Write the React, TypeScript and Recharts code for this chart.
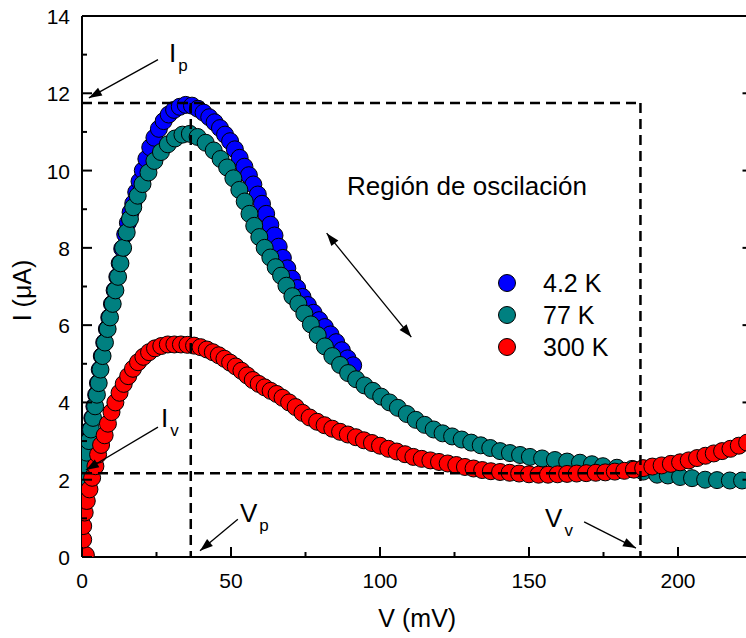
import { Legend, ReferenceDot, ReferenceLine, Scatter, ScatterChart, XAxis, YAxis } from "recharts";

const FONT = "'Liberation Sans', Arial, sans-serif";

// I-V curves, [V (mV), I (uA)]
const curve4K: [number, number][] = [
  [0.15, 2.05], [0.75, 2.4], [1.35, 2.7], [2.05, 3.0], [2.75, 3.3], [3.45, 3.6], [4.15, 3.9],
  [4.75, 4.2], [5.35, 4.5], [5.95, 4.85], [6.65, 5.2], [7.45, 5.55], [8.35, 5.9], [9.15, 6.2],
  [10.05, 6.55], [10.95, 6.9], [11.85, 7.25], [12.65, 7.6], [13.5, 7.98], [14.5, 8.35],
  [15.4, 8.65], [16.3, 8.92], [17.2, 9.15], [18.2, 9.44], [19.3, 9.72], [20.4, 10.0], [21.6, 10.3],
  [22.9, 10.6], [24.3, 10.85], [25.8, 11.08], [27.4, 11.28], [29.1, 11.45], [30.9, 11.57],
  [32.8, 11.65], [34.8, 11.7], [36.9, 11.68], [38.9, 11.6], [40.8, 11.5], [42.7, 11.38],
  [44.5, 11.25], [46.3, 11.1], [48.0, 10.93], [49.7, 10.76], [51.3, 10.55], [52.9, 10.33],
  [54.5, 10.1], [56.0, 9.88], [57.5, 9.64], [59.0, 9.38], [60.4, 9.14], [61.8, 8.88], [63.2, 8.6],
  [64.6, 8.32], [66.0, 8.03], [67.4, 7.74], [68.9, 7.47], [70.5, 7.2], [72.2, 6.96], [74.0, 6.73],
  [75.8, 6.52], [77.7, 6.32], [79.6, 6.13], [81.5, 5.95], [83.4, 5.76], [85.3, 5.56], [87.2, 5.35],
  [89.1, 5.14], [91.0, 4.96],
];

const curve77K: [number, number][] = [
  [0, 1.7], [0.4, 2.05], [1.0, 2.4], [1.6, 2.7], [2.3, 3.0], [3.0, 3.3], [3.7, 3.6], [4.4, 3.9],
  [5.0, 4.2], [5.6, 4.5], [6.2, 4.85], [6.9, 5.2], [7.7, 5.55], [8.6, 5.9], [9.4, 6.2], [10.3, 6.55],
  [11.2, 6.9], [12.1, 7.25], [12.9, 7.6], [13.8, 8.0], [15.0, 8.4], [16.1, 8.75], [17.2, 9.05],
  [18.7, 9.35], [20.3, 9.65], [22.3, 9.95], [24.3, 10.25], [26.5, 10.48], [28.8, 10.68],
  [31.2, 10.83], [33.7, 10.93], [36.2, 10.95], [38.8, 10.87], [41.5, 10.72], [44.2, 10.52],
  [46.5, 10.3], [48.7, 10.08], [50.8, 9.8], [52.8, 9.5], [54.6, 9.2], [56.2, 8.88], [57.8, 8.57],
  [59.5, 8.28], [61.3, 8.0], [63.2, 7.75], [65.0, 7.5], [66.8, 7.28], [68.6, 7.02], [70.6, 6.75],
  [72.6, 6.55], [74.6, 6.3], [76.8, 6.02], [79.1, 5.74], [81.5, 5.45], [84.0, 5.2], [86.6, 4.97],
  [89.3, 4.76], [92.0, 4.6], [94.8, 4.44], [97.6, 4.3], [100.4, 4.15], [103.2, 4.0], [106.0, 3.86],
  [109.0, 3.7], [112.0, 3.55], [115.0, 3.42], [118.0, 3.3], [121.0, 3.2], [124.2, 3.12],
  [127.4, 3.04], [130.6, 2.96], [133.8, 2.89], [137.0, 2.82], [140.3, 2.74], [143.6, 2.69],
  [147.0, 2.64], [150.3, 2.59], [154.4, 2.55], [158.7, 2.51], [162.8, 2.47], [167.1, 2.44],
  [171.1, 2.4], [174.8, 2.35], [179.5, 2.31], [184.6, 2.28], [188.3, 2.21], [193.0, 2.13],
  [196.6, 2.11], [200.7, 2.07], [204.7, 2.04], [209.1, 2.0], [213.1, 1.99], [217.4, 1.98],
  [221.5, 1.98],
];

const curve300K: [number, number][] = [
  [1.3, 0.05], [0.4, 0.45], [0.4, 0.8], [0.9, 1.15], [1.6, 1.45], [2.5, 1.75], [3.4, 2.05],
  [4.5, 2.35], [5.4, 2.65], [6.4, 2.9], [7.6, 3.15], [8.7, 3.45], [9.9, 3.75], [11.2, 4.0],
  [12.6, 4.25], [14.0, 4.48], [15.5, 4.68], [17.1, 4.87], [18.8, 5.04], [20.6, 5.18], [22.5, 5.3],
  [24.5, 5.4], [26.6, 5.46], [28.8, 5.5], [31.0, 5.5], [33.2, 5.5], [35.4, 5.49], [37.6, 5.47],
  [39.8, 5.43], [41.9, 5.37], [43.9, 5.3], [45.9, 5.22], [47.8, 5.13], [49.7, 5.03], [51.6, 4.93],
  [53.5, 4.82], [55.4, 4.7], [57.3, 4.58], [59.3, 4.48], [61.3, 4.39], [63.3, 4.3], [65.3, 4.22],
  [67.3, 4.12], [69.5, 4.0], [71.7, 3.88], [74.0, 3.73], [76.4, 3.61], [78.9, 3.5], [81.4, 3.41],
  [84.0, 3.32], [86.6, 3.24], [89.2, 3.17], [91.9, 3.1], [94.6, 3.02], [97.3, 2.95], [100.0, 2.88],
  [102.8, 2.8], [105.6, 2.73], [108.4, 2.66], [111.2, 2.59], [114.0, 2.54], [116.9, 2.5],
  [119.8, 2.46], [122.7, 2.42], [125.6, 2.38], [128.5, 2.33], [131.4, 2.29], [134.3, 2.25],
  [137.2, 2.22], [140.3, 2.2], [143.5, 2.18], [146.7, 2.16], [150.0, 2.14], [153.2, 2.13],
  [156.4, 2.13], [159.6, 2.14], [162.8, 2.15], [166.0, 2.16], [169.2, 2.17], [172.4, 2.18],
  [175.6, 2.19], [178.8, 2.21], [182.0, 2.23], [185.2, 2.26], [188.3, 2.3], [191.4, 2.34],
  [194.5, 2.37], [197.6, 2.41], [200.7, 2.45], [203.6, 2.5], [206.4, 2.56], [209.2, 2.62],
  [212.0, 2.68], [214.8, 2.74], [217.6, 2.8], [220.4, 2.88], [223.2, 2.96],
];

const seriesNames = ["4.2 K", "77 K", "300 K"];
const seriesColors = ["#0000ff", "#008080", "#ff0000"];

const xTicks = [0, 25, 50, 75, 100, 125, 150, 175, 200, 225];
const xLabels = [0, 50, 100, 150, 200];
const yTicks = [0, 1, 2, 3, 4, 5, 6, 7, 8, 9, 10, 11, 12, 13, 14];
const yLabels = [0, 2, 4, 6, 8, 10, 12, 14];

// peak / valley points (dashed box)
const Vp = 36.5;
const Vv = 187.4;
const Ip = 11.75;
const Iv = 2.17;

const toPoints = (rows: [number, number][]) => rows.map(([v, i]) => ({ v, i }));

function Dot(props: any) {
  return <circle cx={props.cx} cy={props.cy} r={8.5} fill={props.fill} stroke="#000" strokeWidth={1} />;
}

function BottomTick({ x, y, payload }: any) {
  const major = xLabels.includes(payload.value);
  return (
    <g>
      <line x1={x} y1={y} x2={x} y2={y - (major ? 10 : 5)} stroke="#000" strokeWidth={2} />
      {major && (
        <text x={x} y={y + 31} textAnchor="middle" fontSize={21} fontFamily={FONT} fill="#000">
          {payload.value}
        </text>
      )}
    </g>
  );
}

function TopTick({ x, y, payload }: any) {
  const major = xLabels.includes(payload.value);
  return <line x1={x} y1={y} x2={x} y2={y + (major ? 10 : 5)} stroke="#000" strokeWidth={2} />;
}

function LeftTick({ x, y, payload }: any) {
  const major = yLabels.includes(payload.value);
  return (
    <g>
      <line x1={x} y1={y} x2={x + (major ? 10 : 5)} y2={y} stroke="#000" strokeWidth={2} />
      {major && (
        <text x={x - 12} y={y + 8} textAnchor="end" fontSize={21} fontFamily={FONT} fill="#000">
          {payload.value}
        </text>
      )}
    </g>
  );
}

function RightTick({ x, y, payload }: any) {
  const major = yLabels.includes(payload.value);
  return <line x1={x} y1={y} x2={x - (major ? 10 : 5)} y2={y} stroke="#000" strokeWidth={2} />;
}

function head(tx: number, ty: number, fx: number, fy: number) {
  const len = Math.hypot(tx - fx, ty - fy);
  const ux = (tx - fx) / len;
  const uy = (ty - fy) / len;
  const L = 13;
  const W = 4.5;
  const bx = tx - ux * L;
  const by = ty - uy * L;
  return `${tx},${ty} ${bx - uy * W},${by + ux * W} ${bx + uy * W},${by - ux * W}`;
}

function arrowShape(both: boolean) {
  return (p: any) => {
    const { x1, y1, x2, y2 } = p;
    return (
      <g>
        <line x1={x1} y1={y1} x2={x2} y2={y2} stroke="#000" strokeWidth={1.3} />
        <polygon points={head(x2, y2, x1, y1)} fill="#000" />
        {both && <polygon points={head(x1, y1, x2, y2)} fill="#000" />}
      </g>
    );
  };
}

// annotation arrows, [from, to] in data units
const arrows: { from: [number, number]; to: [number, number]; both?: boolean }[] = [
  { from: [25.5, 12.87], to: [2.3, 11.88] },
  { from: [25.5, 3.36], to: [1.3, 2.25] },
  { from: [52.3, 0.98], to: [39.6, 0.16] },
  { from: [168.5, 0.91], to: [185.9, 0.23] },
  { from: [82.1, 8.38], to: [110.5, 5.69], both: true },
];

const symbols: { at: [number, number]; main: string; sub: string }[] = [
  { at: [29.2, 12.81], main: "I", sub: "p" },
  { at: [26.5, 3.36], main: "I", sub: "v" },
  { at: [53.0, 0.91], main: "V", sub: "p" },
  { at: [155.4, 0.78], main: "V", sub: "v" },
];

const regionText = "Región de oscilación";

function LegendBox() {
  return (
    <div style={{ fontFamily: FONT, fontSize: 25, color: "#000" }}>
      {seriesNames.map((name, k) => (
        <div key={name} style={{ display: "flex", alignItems: "center", height: 32, lineHeight: "32px" }}>
          <svg width={24} height={24} style={{ display: "block" }}>
            <circle cx={12} cy={12} r={8.5} fill={seriesColors[k]} stroke="#000" strokeWidth={1} />
          </svg>
          <span style={{ marginLeft: 24, whiteSpace: "nowrap" }}>{name}</span>
        </div>
      ))}
    </div>
  );
}

export default function App() {
  const curves = [curve4K, curve77K, curve300K].map(toPoints);
  const ax = { xAxisId: "bottom", yAxisId: "left" };
  const top = 700;

  return (
    <div style={{ position: "absolute", left: 0, top: 0, width: 746, height: 638, overflow: "hidden", background: "#fff" }}>
      <ScatterChart width={780} height={638} margin={{ top: 0, right: 0, bottom: 0, left: 0 }}>
        <XAxis
          xAxisId="bottom"
          dataKey="v"
          type="number"
          domain={[0, 225]}
          ticks={xTicks}
          interval={0}
          allowDataOverflow
          height={81}
          tickSize={0}
          tickMargin={0}
          tickLine={false}
          axisLine={{ stroke: "#000", strokeWidth: 2 }}
          tick={<BottomTick />}
          label={{
            content: ({ viewBox }: any) => (
              <text x={viewBox.x + viewBox.width / 2} y={viewBox.y + 70} textAnchor="middle" fontSize={25} fontFamily={FONT} fill="#000">
                V (mV)
              </text>
            ),
          }}
        />
        <XAxis
          xAxisId="top"
          orientation="top"
          type="number"
          domain={[0, 225]}
          ticks={xTicks}
          interval={0}
          allowDataOverflow
          height={16}
          tickSize={0}
          tickMargin={0}
          tickLine={false}
          axisLine={{ stroke: "#000", strokeWidth: 2 }}
          tick={<TopTick />}
        />
        <YAxis
          yAxisId="left"
          dataKey="i"
          type="number"
          domain={[0, 14]}
          ticks={yTicks}
          interval={0}
          allowDataOverflow
          width={82}
          tickSize={0}
          tickMargin={0}
          tickLine={false}
          axisLine={{ stroke: "#000", strokeWidth: 2 }}
          tick={<LeftTick />}
          label={{
            content: ({ viewBox }: any) => {
              const cx = viewBox.x + 31;
              const cy = viewBox.y + viewBox.height / 2 + 4;
              return (
                <text x={cx} y={cy} transform={`rotate(-90 ${cx} ${cy})`} textAnchor="middle" fontSize={25} fontFamily={FONT} fill="#000">
                  I (μA)
                </text>
              );
            },
          }}
        />
        <YAxis
          yAxisId="right"
          orientation="right"
          type="number"
          domain={[0, 14]}
          ticks={yTicks}
          interval={0}
          allowDataOverflow
          width={27.5}
          tickSize={0}
          tickMargin={0}
          tickLine={false}
          axisLine={{ stroke: "#000", strokeWidth: 2 }}
          tick={<RightTick />}
        />
        {curves.map((pts, k) => (
          <Scatter
            key={seriesNames[k]}
            {...ax}
            name={seriesNames[k]}
            data={pts}
            fill={seriesColors[k]}
            shape={<Dot />}
            isAnimationActive={false}
          />
        ))}
        <ReferenceLine {...ax} zIndex={top} segment={[{ x: 0, y: Ip }, { x: Vv, y: Ip }]} stroke="#000" strokeWidth={2.5} strokeDasharray="10 6" />
        <ReferenceLine {...ax} zIndex={top} segment={[{ x: 0, y: Iv }, { x: Vv, y: Iv }]} stroke="#000" strokeWidth={2.5} strokeDasharray="10 6" />
        <ReferenceLine {...ax} zIndex={top} segment={[{ x: Vp, y: Ip }, { x: Vp, y: 0 }]} stroke="#000" strokeWidth={2.5} strokeDasharray="10 6" />
        <ReferenceLine {...ax} zIndex={top} segment={[{ x: Vv, y: Ip }, { x: Vv, y: 0 }]} stroke="#000" strokeWidth={2.5} strokeDasharray="10 6" />
        {arrows.map((a, k) => (
          <ReferenceLine
            key={`arrow-${k}`}
            {...ax}
            zIndex={top}
            segment={[{ x: a.from[0], y: a.from[1] }, { x: a.to[0], y: a.to[1] }]}
            shape={arrowShape(!!a.both)}
          />
        ))}
        {symbols.map((s, k) => (
          <ReferenceDot
            key={`sym-${k}`}
            {...ax}
            zIndex={top}
            x={s.at[0]}
            y={s.at[1]}
            r={0}
            shape={(p: any) => (
              <text x={p.cx} y={p.cy} fontSize={26} fontFamily={FONT} fill="#000">
                {s.main}
                <tspan dx={2} dy={9} fontSize={17}>
                  {s.sub}
                </tspan>
              </text>
            )}
          />
        ))}
        <ReferenceDot
          {...ax}
          zIndex={top}
          x={88.9}
          y={9.37}
          r={0}
          shape={(p: any) => (
            <text x={p.cx} y={p.cy} fontSize={26} fontFamily={FONT} fill="#000">
              {regionText}
            </text>
          )}
        />
        <Legend
          layout="vertical"
          align="center"
          verticalAlign="middle"
          wrapperStyle={{ left: 495, top: 267, width: "auto", height: "auto" }}
          content={() => <LegendBox />}
        />
      </ScatterChart>
    </div>
  );
}
